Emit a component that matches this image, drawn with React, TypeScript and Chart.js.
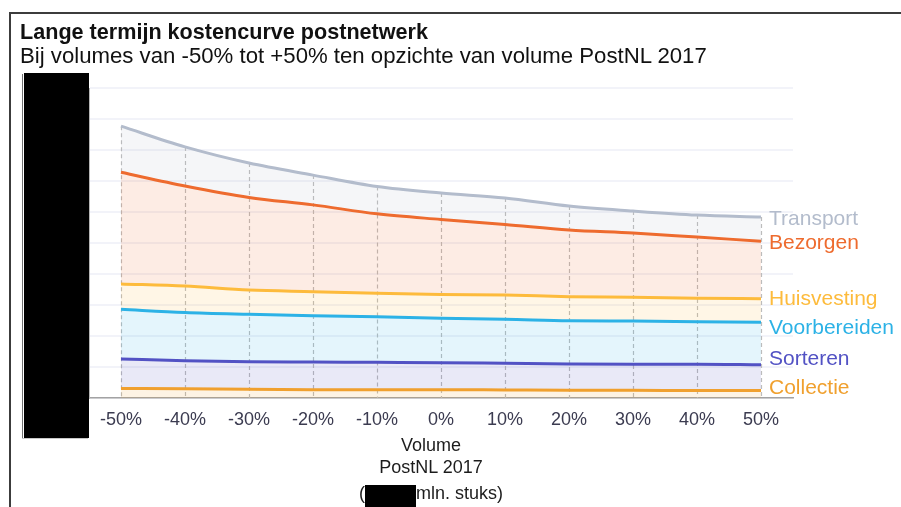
import React, { useEffect, useRef } from "react";
import { Chart, registerables } from "chart.js";

Chart.register(...registerables);

const categories = ["-50%", "-40%", "-30%", "-20%", "-10%", "0%", "10%", "20%", "30%", "40%", "50%"];
const seriesNames = ["Collectie", "Sorteren", "Voorbereiden", "Huisvesting", "Bezorgen", "Transport"];
// component values (stacked)
const collectie = [0.31, 0.30, 0.28, 0.27, 0.27, 0.27, 0.26, 0.25, 0.25, 0.24, 0.24];
const sorteren = [0.95, 0.90, 0.89, 0.89, 0.88, 0.87, 0.86, 0.85, 0.84, 0.85, 0.83];
const voorbereiden = [1.60, 1.56, 1.53, 1.49, 1.47, 1.43, 1.42, 1.39, 1.39, 1.37, 1.37];
const huisvesting = [0.82, 0.85, 0.78, 0.78, 0.76, 0.77, 0.78, 0.78, 0.77, 0.76, 0.76];
const bezorgen = [3.60, 3.23, 2.99, 2.80, 2.56, 2.42, 2.28, 2.15, 2.07, 1.97, 1.86];
const transport = [1.49, 1.26, 1.11, 0.96, 0.88, 0.85, 0.85, 0.77, 0.71, 0.71, 0.78];
const yTicks = [0, 1, 2, 3, 4, 5, 6, 7, 8, 9, 10];

const lineColors = ["#f0a02e", "#5252c4", "#2cb2e6", "#fdbb3c", "#ee6b2e", "#b3bccc"];
const labelOffsets = [-2, -6, 6, 0, 2, 2];
const FONT = "'Liberation Sans', Arial, sans-serif";

function rgba(hex: string, a: number) {
  const n = parseInt(hex.slice(1), 16);
  return `rgba(${(n >> 16) & 255},${(n >> 8) & 255},${n & 255},${a})`;
}

const dropLines = {
  id: "dropLines",
  beforeDatasetsDraw(chart: any) {
    const ctx = chart.ctx;
    const meta = chart.getDatasetMeta(chart.data.datasets.length - 1);
    const bottom = chart.chartArea.bottom;
    ctx.save();
    ctx.strokeStyle = "#bcbcbc";
    ctx.lineWidth = 1.2;
    ctx.setLineDash([4, 3]);
    meta.data.forEach((pt: any) => {
      ctx.beginPath();
      ctx.moveTo(Math.round(pt.x) + 0.5, pt.y);
      ctx.lineTo(Math.round(pt.x) + 0.5, bottom);
      ctx.stroke();
    });
    ctx.restore();
  },
};

const endLabels = {
  id: "endLabels",
  afterDatasetsDraw(chart: any) {
    const ctx = chart.ctx;
    ctx.save();
    ctx.font = `21px ${FONT}`;
    ctx.textBaseline = "middle";
    ctx.textAlign = "left";
    chart.data.datasets.forEach((ds: any, i: number) => {
      const meta = chart.getDatasetMeta(i);
      const last = meta.data[meta.data.length - 1];
      ctx.fillStyle = ds.borderColor;
      ctx.fillText(ds.label, last.x + 8, last.y + labelOffsets[i]);
    });
    ctx.restore();
  },
};

export default function App() {
  const ref = useRef<HTMLCanvasElement | null>(null);

  useEffect(() => {
    if (!ref.current) return;
    const values = [collectie, sorteren, voorbereiden, huisvesting, bezorgen, transport];
    const chart = new Chart(ref.current, {
      type: "line",
      data: {
        labels: categories,
        datasets: values.map((v, i) => ({
          label: seriesNames[i],
          data: v,
          borderColor: lineColors[i],
          backgroundColor: rgba(lineColors[i], 0.13),
          borderWidth: 3,
          pointRadius: 0,
          cubicInterpolationMode: "monotone" as const,
          fill: i === 0 ? "origin" : "-1",
        })),
      },
      options: {
        animation: false,
        responsive: true,
        maintainAspectRatio: false,
        layout: { padding: { left: 89, right: 108, top: 88, bottom: 69 } },
        plugins: { legend: { display: false }, tooltip: { enabled: false } },
        scales: {
          x: {
            offset: true,
            grid: { display: false, drawTicks: false },
            border: { display: true, color: "#a3a3a3", width: 1.5 },
            ticks: { color: "#3b3b50", font: { family: FONT, size: 18 }, padding: 11, maxRotation: 0 },
            afterFit: (s: any) => { s.height = 40; },
          },
          y: {
            stacked: true,
            min: 0,
            max: 10,
            afterBuildTicks: (s: any) => { s.ticks = yTicks.map((v) => ({ value: v })); },
            grid: { color: "#f2f3f9", lineWidth: 2, drawTicks: false },
            border: { display: true, color: "#b5b5b5", width: 1 },
            ticks: { display: false },
            afterFit: (s: any) => { s.width = 0; },
          },
        },
      },
      plugins: [dropLines, endLabels],
    });
    return () => chart.destroy();
  }, []);

  const abs = (o: React.CSSProperties): React.CSSProperties => ({ position: "absolute", ...o });
  const lineTitle: React.CSSProperties = {
    position: "absolute",
    left: 281,
    width: 300,
    textAlign: "center",
    fontFamily: FONT,
    fontSize: 18,
    lineHeight: "18px",
    color: "#1c1c1c",
    whiteSpace: "nowrap",
  };

  return (
    <div style={abs({ left: 0, top: 0, width: 901, height: 507, overflow: "hidden", background: "#fff" })}>
      <div style={abs({ left: 0, top: 0, width: 901, height: 507 })}>
        <canvas ref={ref} />
      </div>
      <div style={abs({ left: 9, top: 12, width: 900, height: 500, borderTop: "2px solid #3c3c3c", borderLeft: "2px solid #3c3c3c" })} />
      <div style={abs({ left: 20, top: 20.7, fontFamily: FONT, fontWeight: "bold", fontSize: 21.6, lineHeight: "21.6px", color: "#111", whiteSpace: "nowrap" })}>
        Lange termijn kostencurve postnetwerk
      </div>
      <div style={abs({ left: 20, top: 45.2, fontFamily: FONT, fontSize: 22.2, lineHeight: "22.2px", color: "#111", whiteSpace: "nowrap" })}>
        Bij volumes van -50% tot +50% ten opzichte van volume PostNL 2017
      </div>
      <div style={abs({ left: 22, top: 74, width: 1, height: 365, background: "#707070" })} />
      <div style={abs({ left: 22, top: 438, width: 66, height: 1, background: "#c8c8c8" })} />
      <div style={abs({ left: 24, top: 73, width: 65, height: 365, background: "#000" })} />
      <div style={{ ...lineTitle, top: 435.8 }}>Volume</div>
      <div style={{ ...lineTitle, top: 457.8 }}>PostNL 2017</div>
      <div style={{ ...lineTitle, top: 483.8 }}>
        (<span style={{ display: "inline-block", width: 51, height: 22, background: "#000", verticalAlign: -8 }} />mln. stuks)
      </div>
    </div>
  );
}
